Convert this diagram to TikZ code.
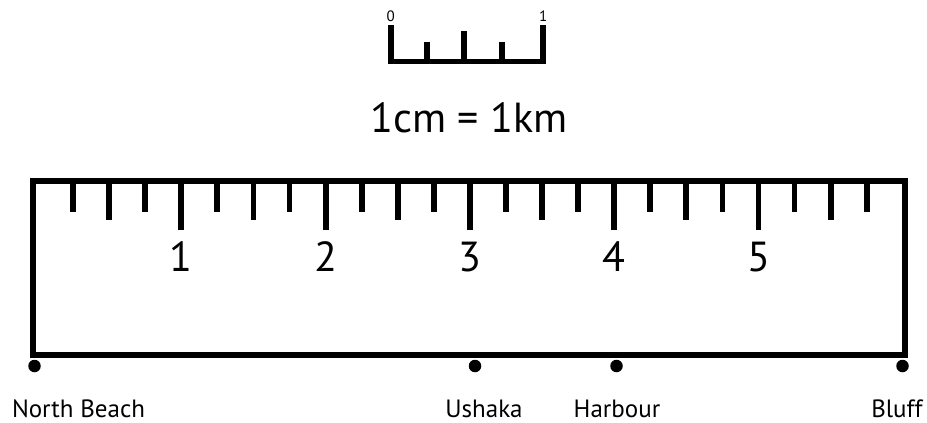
\documentclass[tikz,border=0pt]{standalone}
\usepackage{fontspec}
\setmainfont{PT Sans}
\usetikzlibrary{positioning}

\begin{document}
\begin{tikzpicture}[x=1pt, y=-1pt, line width=5.8pt, line join=miter,
  bigfont/.style={font=\fontsize{42}{46}\selectfont, anchor=base},
  placename/.style={font=\fontsize{25}{28}\selectfont, anchor=base},
  spot/.style={circle, fill, inner sep=0pt, minimum size=12.5pt}]
\useasboundingbox (0,0) rectangle (927,423);
% small scale bar
\draw (390.7,25) -- (390.7,61.5) -- (543.3,61.5) -- (543.3,25);
\foreach \x/\top in {427.3/41.7, 464.3/30.7, 502.3/41.7}
  \draw (\x,61.5) -- (\x,\top);
\node[font=\fontsize{15}{16}\selectfont] (zero) at (390.7,16) {0};
\node[font=\fontsize{15}{16}\selectfont] (one) at (543.3,16) {1};
% scale text
\node[bigfont] (scale) at (469,132.7) {1cm = 1km};
% ruler body
\draw (33,181) rectangle (905,355);
% quarter, half and whole cm ticks
\foreach \i in {1,...,23} {
  \pgfmathsetmacro{\xx}{37+36.075*\i}
  \pgfmathsetmacro{\len}{mod(\i,4)==0 ? 49 : (mod(\i,2)==0 ? 39 : 30.5)}
  \draw (\xx,181) -- (\xx,181+\len);
}
\foreach \n in {1,...,5}
  \node[bigfont] (n\n) at (37+144.3*\n,271.7) {\n};
% places along the bottom edge
\node[spot] (north) at (34.5,366) {};
\node[spot] (ushaka) at (475,366) {};
\node[spot] (harbour) at (616.5,366) {};
\node[spot] (bluff) at (902.5,366) {};
\node[placename] (northname) at (78.5,417.3) {North Beach};
\node[placename] (ushakaname) at (484,417.3) {Ushaka};
\node[placename] (harbourname) at (617,417.3) {Harbour};
\node[placename] (bluffname) at (897,417.3) {Bluff};
\end{tikzpicture}
\end{document}
